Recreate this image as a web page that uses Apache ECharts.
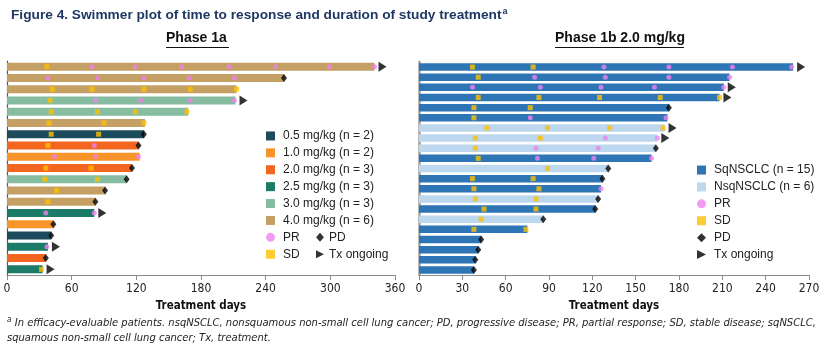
<!DOCTYPE html>
<html>
<head>
<meta charset="utf-8">
<script src="https://cdn.jsdelivr.net/npm/echarts@6/dist/echarts.min.js"></script>
<style>html,body{margin:0;padding:0;background:#fff}#c{width:827px;height:347px}</style>
</head>
<body>
<div id="c"></div>
<script>
// ---------- Phase 1a (left) ----------
const doseGroups = ['0.5', '1.0', '2.0', '2.5', '3.0', '4.0'];
const doseLabels = ['0.5 mg/kg (n = 2)', '1.0 mg/kg (n = 2)', '2.0 mg/kg (n = 3)', '2.5 mg/kg (n = 3)', '3.0 mg/kg (n = 3)', '4.0 mg/kg (n = 6)'];
const leftDays = [341, 257, 213, 212, 168, 128, 127, 122, 123, 116, 111, 91, 82, 81, 43, 41, 38, 36, 33];
const leftDose = ['4.0','4.0','4.0','3.0','3.0','4.0','0.5','2.0','1.0','2.0','3.0','4.0','4.0','2.5','1.0','0.5','2.5','2.0','2.5'];
const leftPR = [[79,119,162,206,249,299,341],[38,84,127,169,211],[],[82,124,170,211],[],[],[],[81],[44,82,122],[],[],[],[],[36,81],[],[],[37],[],[]];
const leftSD = [[37],[],[42,79,127,170,213],[40],[41,84,119,167],[39,90,127],[41,85],[38],[],[36,78],[35,84],[46],[38],[],[],[],[],[],[32]];
const leftPD = [null,257,null,null,null,null,127,122,null,116,111,91,82,null,43,41,null,36,null];
const leftOngoing = [1,0,0,1,0,0,0,0,0,0,0,0,0,1,0,0,1,0,1];
const leftTicks = [0, 60, 120, 180, 240, 300, 360];

// ---------- Phase 1b (right) ----------
const tumorTypes = ['Sq', 'Nsq'];
const tumorLabels = ['SqNSCLC (n = 15)', 'NsqNSCLC (n = 6)'];
const rightDays = [259,215,211,208,173,172,170,165,164,161,131,127,126,124,122,86,75,43,41,39,38];
const rightType = ['Sq','Sq','Sq','Sq','Sq','Sq','Nsq','Nsq','Nsq','Sq','Nsq','Sq','Sq','Nsq','Sq','Nsq','Sq','Sq','Sq','Sq','Sq'];
const rightPR = [[128,173,217,258],[80,129,173,215],[37,84,126,163,211],[],[],[77,171],[],[129,165],[81,124],[82,121,161],[],[],[126],[],[],[],[],[],[],[],[]];
const rightSD = [[37,79],[41],[],[41,83,125,167,208],[38,77],[38],[47,89,132,169],[39,84],[39],[41],[89],[37,79],[38,83],[39,81],[45,81],[43],[38,74],[],[],[],[]];
const rightPD = [null,null,null,null,173,null,null,null,164,null,131,127,null,124,122,86,null,43,41,39,38];
const rightOngoing = [1,0,1,1,0,0,1,1,0,0,0,0,0,0,0,0,0,0,0,0,0];
const rightTicks = [0, 30, 60, 90, 120, 150, 180, 210, 240, 270];

// ---------- styles ----------
const doseColors = ['#1C4B5B', '#F7942A', '#F26620', '#1B7B68', '#86BC9F', '#C4A064'];
const tumorColors = ['#2E75B6', '#BDD7EE'];
const PR_COLOR = '#EE82EE', SD_COLOR = '#FFC000', PD_COLOR = '#000000';
const ARROW = 'path://M0,0L10,5L0,10Z';
const NARROW = '"DejaVu Sans Condensed","Liberation Sans Narrow",sans-serif';
const SANS = '"Liberation Sans",Arial,sans-serif';

const chart = echarts.init(document.getElementById('c'), null, {renderer: 'canvas'});

function flatPts(arr) {
  const out = [];
  arr.forEach((row, i) => row.forEach(d => out.push([d, i])));
  return out;
}
function single(arr) {
  const out = [];
  arr.forEach((d, i) => { if (d !== null) out.push([d, i]); });
  return out;
}
function ongoingPts(days, flags) {
  const out = [];
  flags.forEach((f, i) => { if (f) out.push([days[i], i]); });
  return out;
}

const series = [];
doseGroups.forEach((g, k) => {
  series.push({
    type: 'bar', name: doseLabels[k], xAxisIndex: 0, yAxisIndex: 0,
    barWidth: 8, barGap: '-100%',
    itemStyle: {color: doseColors[k]},
    data: leftDays.map((d, i) => leftDose[i] === g ? d : null)
  });
});
tumorTypes.forEach((t, k) => {
  series.push({
    type: 'bar', name: tumorLabels[k], xAxisIndex: 1, yAxisIndex: 1,
    barWidth: 7.5, barGap: '-100%',
    itemStyle: {color: tumorColors[k]},
    data: rightDays.map((d, i) => rightType[i] === t ? d : null)
  });
});
function markers(ax, pr, sd, pd, days, ongoing) {
  return [
    {type: 'scatter', name: 'PR', xAxisIndex: ax, yAxisIndex: ax, symbol: 'circle', symbolSize: 5, itemStyle: {color: PR_COLOR}, z: 5, data: flatPts(pr)},
    {type: 'scatter', name: 'SD', xAxisIndex: ax, yAxisIndex: ax, symbol: 'rect', symbolSize: 5, itemStyle: {color: SD_COLOR}, z: 5, data: flatPts(sd)},
    {type: 'scatter', name: 'PD', xAxisIndex: ax, yAxisIndex: ax, symbol: 'diamond', symbolSize: [6, 8], itemStyle: {color: PD_COLOR}, z: 6, data: single(pd)},
    {type: 'scatter', name: 'Tx ongoing', xAxisIndex: ax, yAxisIndex: ax, symbol: ARROW, symbolSize: [8, 10], symbolOffset: [8, 0], itemStyle: {color: '#000'}, z: 6, data: ongoingPts(days, ongoing)}
  ];
}
series.push(...markers(0, leftPR, leftSD, leftPD, leftDays, leftOngoing));
series.push(...markers(1, rightPR, rightSD, rightPD, rightDays, rightOngoing));

function xAxisCfg(idx, ticks) {
  return {
    type: 'value', gridIndex: idx, min: ticks[0], max: ticks[ticks.length - 1], interval: ticks[1] - ticks[0],
    splitLine: {show: false},
    axisLine: {show: true, lineStyle: {color: '#8c8c8c', width: 1}},
    axisTick: {show: true, length: 5, lineStyle: {color: '#8c8c8c'}},
    axisLabel: {color: '#222', fontFamily: NARROW, fontSize: 12, margin: 8, showMinLabel: true, showMaxLabel: true},
    name: 'Treatment days', nameLocation: 'middle', nameGap: 23,
    nameTextStyle: {color: '#111', fontFamily: NARROW, fontWeight: 'bold', fontSize: 11.5}
  };
}
function yAxisCfg(idx, n, lineColor, lineWidth) {
  return {
    type: 'category', gridIndex: idx, inverse: true,
    data: Array.from({length: n}, (_, i) => 'P' + (i + 1)),
    axisLabel: {show: false}, axisTick: {show: false},
    axisLine: {show: true, lineStyle: {color: lineColor, width: lineWidth}}
  };
}

const legendText = {color: '#222', fontFamily: SANS, fontSize: 12, lineHeight: 16.9};

const option = {
  animation: false,
  backgroundColor: '#fff',
  title: {
    left: 6, top: 2,
    text: '{t|Figure 4. Swimmer plot of time to response and duration of study treatment}{s|a}',
    textStyle: {
      rich: {
        t: {fontFamily: SANS, fontWeight: 'bold', fontSize: 13.7, color: '#1F3864'},
        s: {fontFamily: SANS, fontWeight: 'bold', fontSize: 9, color: '#1F3864', verticalAlign: 'top', padding: [0, 0, 8, 1]}
      }
    }
  },
  grid: [
    {left: 7, top: 61, width: 388, height: 214},
    {left: 419, top: 62, width: 390, height: 213}
  ],
  xAxis: [xAxisCfg(0, leftTicks), xAxisCfg(1, rightTicks)],
  yAxis: [yAxisCfg(0, leftDays.length, '#555', 1.2), yAxisCfg(1, rightDays.length, '#a0a0a0', 2.5)],
  legend: [
    {
      orient: 'vertical', left: 266, top: 127.5, padding: 0, itemGap: 0, itemWidth: 9, itemHeight: 9,
      selectedMode: false,
      textStyle: Object.assign({padding: [0, 0, 0, 3]}, legendText),
      data: doseLabels.map(n => ({name: n, icon: 'rect'})).concat([{name: 'PR', icon: 'circle'}, {name: 'SD', icon: 'rect'}])
    },
    {
      orient: 'vertical', left: 316, top: 228.9, padding: 0, itemGap: 0, itemWidth: 8, itemHeight: 9,
      selectedMode: false, textStyle: legendText,
      data: [{name: 'PD', icon: 'diamond'}, {name: 'Tx ongoing', icon: ARROW}]
    },
    {
      orient: 'vertical', left: 697, top: 161.6, padding: 0, itemGap: 0, itemWidth: 9, itemHeight: 9,
      selectedMode: false,
      textStyle: Object.assign({padding: [0, 0, 0, 3]}, legendText),
      data: tumorLabels.map(n => ({name: n, icon: 'rect'})).concat([
        {name: 'PR', icon: 'circle'}, {name: 'SD', icon: 'rect'}, {name: 'PD', icon: 'diamond'}, {name: 'Tx ongoing', icon: ARROW}])
    }
  ],
  graphic: [
    {type: 'text', top: 31, left: 166, style: {text: 'Phase 1a', font: 'bold 14px ' + SANS, fill: '#111'}},
    {type: 'line', shape: {x1: 166, y1: 47.5, x2: 229, y2: 47.5}, style: {stroke: '#111', lineWidth: 1.2}},
    {type: 'text', top: 31, left: 555, style: {text: 'Phase 1b 2.0 mg/kg', font: 'bold 14px ' + SANS, fill: '#111'}},
    {type: 'line', shape: {x1: 555, y1: 47.5, x2: 684, y2: 47.5}, style: {stroke: '#111', lineWidth: 1.2}},
    {
      type: 'text', left: 7, top: 316,
      style: {
        text: '{s|a} {i|In efficacy-evaluable patients. nsqNSCLC, nonsquamous non-small cell lung cancer; PD, progressive disease; PR, partial response; SD, stable disease; sqNSCLC,}\n{i|squamous non-small cell lung cancer; Tx, treatment.}',
        rich: {
          s: {fontFamily: NARROW, fontStyle: 'italic', fontSize: 8, fill: '#222', verticalAlign: 'top', lineHeight: 15},
          i: {fontFamily: NARROW, fontStyle: 'italic', fontSize: 11.1, fill: '#222', lineHeight: 15}
        }
      }
    }
  ],
  series: series
};
chart.setOption(option);
</script>
</body>
</html>
